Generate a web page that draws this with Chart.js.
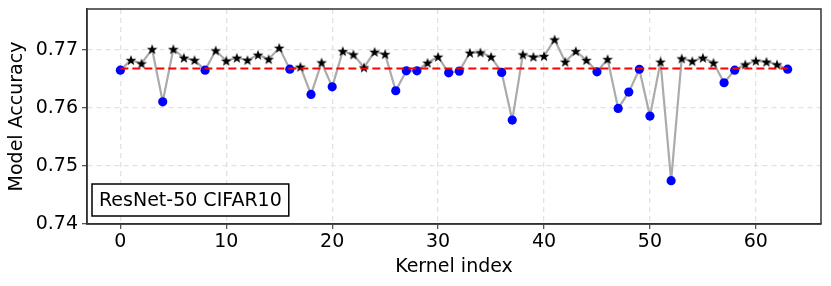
<!DOCTYPE html>
<html>
<head>
<meta charset="utf-8">
<script src="https://cdn.jsdelivr.net/npm/chart.js@4/dist/chart.umd.min.js"></script>
<style>
  body { margin: 0; background: #ffffff; }
</style>
</head>
<body>
<canvas id="acc-chart" width="831" height="286"></canvas>
<script>
var kernelIdx = [
    0, 1, 2, 3, 4, 5, 6, 7, 8, 9,
    10, 11, 12, 13, 14, 15, 16, 17, 18, 19,
    20, 21, 22, 23, 24, 25, 26, 27, 28, 29,
    30, 31, 32, 33, 34, 35, 36, 37, 38, 39,
    40, 41, 42, 43, 44, 45, 46, 47, 48, 49,
    50, 51, 52, 53, 54, 55, 56, 57, 58, 59,
    60, 61, 62, 63
]
var accuracy = [
    0.76655, 0.76828, 0.76770, 0.77017, 0.76109, 0.77017, 0.76868, 0.76828, 0.76655, 0.76994,
    0.76816, 0.76868, 0.76828, 0.76920, 0.76845, 0.77040, 0.76672, 0.76713, 0.76236, 0.76787,
    0.76367, 0.76983, 0.76925, 0.76701, 0.76971, 0.76931, 0.76299, 0.76643, 0.76643, 0.76782,
    0.76885, 0.76609, 0.76638, 0.76954, 0.76960, 0.76885, 0.76615, 0.75793, 0.76925, 0.76885,
    0.76897, 0.77184, 0.76799, 0.76983, 0.76828, 0.76626, 0.76845, 0.75994, 0.76276, 0.76670,
    0.75862, 0.76799, 0.74747, 0.76856, 0.76810, 0.76868, 0.76782, 0.76437, 0.76655, 0.76753,
    0.76816, 0.76799, 0.76753, 0.76672
]
var baselineAcc = 0.76684
var baselineSpan = [0, 63]
var xTicks = [0, 10, 20, 30, 40, 50, 60]
var yTicks = [0.74, 0.75, 0.76, 0.77]
var boxLabel = "ResNet-50 CIFAR10"

var FONT = "DejaVu Sans"

// black star marker
function makeStar() {
    var c = document.createElement("canvas");
    c.width = 12; c.height = 12;
    var g = c.getContext("2d");
    g.beginPath();
    for (var k = 0; k < 10; k++) {
        var r = (k % 2 === 0) ? 5.6 : 2.3;
        var a = -Math.PI / 2 + k * Math.PI / 5;
        var px = 6 + r * Math.cos(a), py = 6.5 + r * Math.sin(a);
        if (k === 0) g.moveTo(px, py); else g.lineTo(px, py);
    }
    g.closePath();
    g.fillStyle = "#000000";
    g.fill();
    return c;
}
var starImg = makeStar();

var points = kernelIdx.map(function (x, i) { return { x: x, y: accuracy[i] }; });
var baseline = baselineSpan.map(function (x) { return { x: x, y: baselineAcc }; });

function isBelow(ctx) {
    return accuracy[ctx.dataIndex] < baselineAcc;
}

var framePlugin = {
    id: "frame",
    afterDraw: function (chart) {
        var ctx = chart.ctx, a = chart.chartArea;
        ctx.save();
        ctx.strokeStyle = "#333333";
        ctx.lineWidth = 1.5;
        ctx.strokeRect(a.left, a.top, a.right - a.left, a.bottom - a.top);

        // text box lower left
        ctx.font = "19px '" + FONT + "'";
        var w = ctx.measureText(boxLabel).width;
        var bx = a.left + 5, bh = 32, by = a.bottom - 8 - bh, bw = w + 14;
        ctx.fillStyle = "#ffffff";
        ctx.fillRect(bx, by, bw, bh);
        ctx.strokeStyle = "#000000";
        ctx.lineWidth = 1.5;
        ctx.strokeRect(bx, by, bw, bh);
        ctx.fillStyle = "#000000";
        ctx.textBaseline = "middle";
        ctx.textAlign = "left";
        ctx.fillText(boxLabel, bx + 7, by + bh / 2 + 1);
        ctx.restore();
    }
};

function noPad(s) {
    s.paddingTop = 0; s.paddingBottom = 0;
    s.paddingLeft = 0; s.paddingRight = 0;
}

var accChart;
function setupChart() {
    const ctx = document.getElementById("acc-chart").getContext("2d");
    accChart = new Chart(ctx, {
        type: "line",
        plugins: [framePlugin],
        data: {
            datasets: [
                {
                    label: "Baseline",
                    data: baseline,
                    borderColor: "#ff0000",
                    borderWidth: 2,
                    borderDash: [8, 4],
                    pointRadius: 0,
                    fill: false
                },
                {
                    label: "Accuracy",
                    data: points,
                    borderColor: "#ababab",
                    borderWidth: 2.2,
                    fill: false,
                    pointStyle: function (c) { return isBelow(c) ? "circle" : starImg; },
                    pointRadius: 4.6,
                    pointBorderWidth: 0,
                    pointBackgroundColor: function (c) { return isBelow(c) ? "#0000ff" : "#000000"; },
                    pointBorderColor: function (c) { return isBelow(c) ? "#0000ff" : "#000000"; }
                }
            ]
        },
        options: {
            responsive: false,
            animation: false,
            events: [],
            layout: { padding: { top: 9, right: 10, left: 0, bottom: 0 } },
            plugins: {
                legend: { display: false },
                tooltip: { enabled: false }
            },
            scales: {
                x: {
                    type: "linear",
                    min: -3.15,
                    max: 66.15,
                    afterBuildTicks: function (s) {
                        s.ticks = xTicks.map(function (v) { return { value: v }; });
                    },
                    afterFit: function (s) { s.height = 62; noPad(s); },
                    ticks: {
                        color: "#000000",
                        font: { family: FONT, size: 19 },
                        padding: 2,
                        maxRotation: 0,
                        callback: function (v) { return String(v); }
                    },
                    grid: {
                        color: "#e2e2e2",
                        lineWidth: 1.3,
                        tickColor: "#555555",
                        tickLength: 5
                    },
                    border: { color: "#333333", width: 1.5, dash: [5, 4] },
                    title: {
                        display: true,
                        text: "Kernel index",
                        color: "#000000",
                        font: { family: FONT, size: 19 },
                        padding: { top: 0, bottom: 8 }
                    }
                },
                y: {
                    min: 0.74,
                    max: 0.7771,
                    afterBuildTicks: function (s) {
                        s.ticks = yTicks.map(function (v) { return { value: v }; });
                    },
                    afterFit: function (s) { s.width = 87; noPad(s); },
                    ticks: {
                        color: "#000000",
                        font: { family: FONT, size: 19 },
                        padding: 4,
                        callback: function (v) { return Number(v).toFixed(2); }
                    },
                    grid: {
                        color: "#e2e2e2",
                        lineWidth: 1.3,
                        tickColor: "#555555",
                        tickLength: 5
                    },
                    border: { color: "#333333", width: 1.5, dash: [5, 4] },
                    title: {
                        display: true,
                        text: "Model Accuracy",
                        color: "#000000",
                        font: { family: FONT, size: 19 },
                        padding: { top: 6, bottom: 0 }
                    }
                }
            }
        }
    });
}
setupChart();
</script>
</body>
</html>
